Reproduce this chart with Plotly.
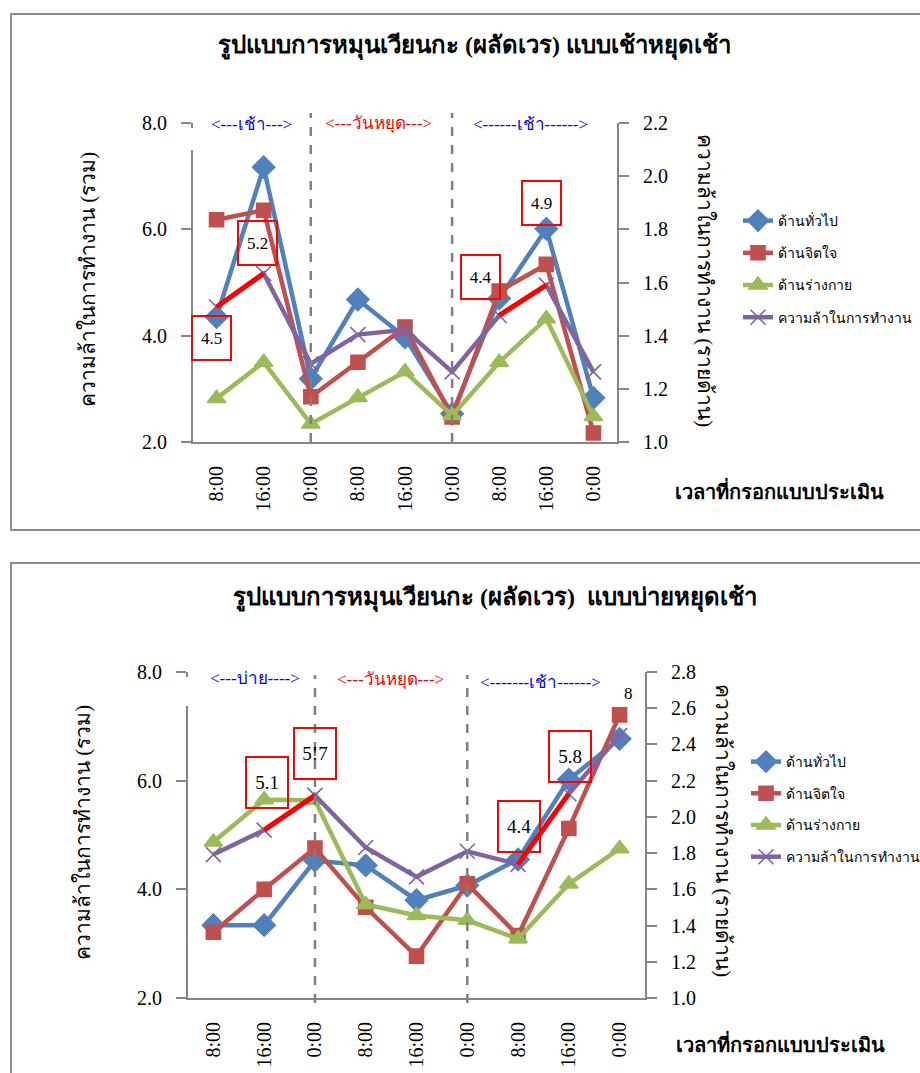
import plotly.graph_objects as go

W, H = 920, 1073

# ---------------- data ----------------
categories = ["8:00", "16:00", "0:00", "8:00 ", "16:00 ", "0:00 ", "8:00  ", "16:00  ", "0:00  "]
tick_text = ["8:00", "16:00", "0:00", "8:00", "16:00", "0:00", "8:00", "16:00", "0:00"]

series_names = ["ด้านทั่วไป", "ด้านจิตใจ", "ด้านร่างกาย", "ความล้าในการทำงาน"]

# chart 1: แบบเช้าหยุดเช้า
c1_general = [4.35, 7.17, 3.19, 4.68, 3.97, 2.53, 4.70, 6.01, 2.83]
c1_mental = [6.18, 6.36, 2.85, 3.50, 4.16, 2.47, 4.84, 5.34, 2.17]
c1_physical = [2.82, 3.50, 2.34, 2.84, 3.32, 2.50, 3.50, 4.32, 2.48]
c1_fatigue = [4.54, 5.17, 3.47, 4.02, 4.11, 3.32, 4.38, 4.95, 3.32]
c1_boxes = {0: "4.5", 1: "5.2", 6: "4.4", 7: "4.9"}
c1_highlight_pairs = [(0, 1), (6, 7)]
c1_sections = ["&lt;---เช้า---&gt;", "&lt;---วันหยุด---&gt;", "&lt;------เช้า------&gt;"]

# chart 2: แบบบ่ายหยุดเช้า
c2_general = [3.34, 3.34, 4.53, 4.44, 3.80, 4.07, 4.55, 6.02, 6.77]
c2_mental = [3.21, 4.00, 4.76, 3.67, 2.77, 4.10, 3.15, 5.12, 7.21]
c2_physical = [4.87, 5.65, 5.64, 3.72, 3.52, 3.43, 3.09, 4.10, 4.75]
c2_fatigue = [4.64, 5.09, 5.73, 4.77, 4.23, 4.70, 4.46, 5.76, 6.83]
c2_boxes = {1: "5.1", 2: "5!7", 6: "4.4", 7: "5.8"}
c2_highlight_pairs = [(1, 2), (6, 7)]
c2_sections = ["&lt;---บ่าย----&gt;", "&lt;---วันหยุด---&gt;", "&lt;-------เช้า------&gt;"]

divider_idx = [2, 5]

colors = ["#4F81BD", "#C0504D", "#9BBB59", "#8064A2"]
symbols = ["diamond", "square", "triangle-up", "x-thin-open"]
msizes = [17, 14, 16, 15]

SERIF = "Liberation Serif, Times New Roman, serif"
GREY = "#868686"


def px(x):
    return x / W


def py(y):
    return 1 - y / H


fig = go.Figure()


def add_chart(vals, xref, yref, y2ref, legend, highlight_pairs):
    for k, v in enumerate(vals):
        fig.add_trace(go.Scatter(
            x=categories, y=v, name=series_names[k], mode="lines+markers",
            line=dict(color=colors[k], width=4.5),
            marker=dict(symbol=symbols[k], size=msizes[k], color=colors[k],
                        line=dict(color=colors[k], width=1.6)),
            xaxis=xref, yaxis=yref, legend=legend, legendgroup=legend + str(k),
        ))
    fat = vals[3]
    for a, b in highlight_pairs:
        fig.add_trace(go.Scatter(
            x=[categories[a], categories[b]], y=[fat[a], fat[b]], mode="lines",
            line=dict(color="#FF0000", width=5), showlegend=False,
            xaxis=xref, yaxis=yref, hoverinfo="skip"))
    # invisible trace to activate the secondary axis
    fig.add_trace(go.Scatter(x=[categories[0]], y=[None], mode="markers",
                             showlegend=False, xaxis=xref, yaxis=y2ref,
                             hoverinfo="skip"))


add_chart([c1_general, c1_mental, c1_physical, c1_fatigue],
          "x", "y", "y2", "legend", c1_highlight_pairs)
add_chart([c2_general, c2_mental, c2_physical, c2_fatigue],
          "x3", "y3", "y4", "legend2", c2_highlight_pairs)


def xaxis_cfg(l, r, anchor):
    return dict(domain=[px(l), px(r)], anchor=anchor, type="category",
                categoryorder="array", categoryarray=categories,
                range=[-0.5, 8.5], tickvals=categories, ticktext=tick_text,
                tickangle=-90, tickfont=dict(family=SERIF, size=20, color="black"),
                showline=True, linecolor=GREY, linewidth=2, ticks="",
                ticklabelstandoff=14, showgrid=False, zeroline=False,
                automargin=False, fixedrange=True)


def yaxis_cfg(t, b, anchor, rng, dtick, side="left", overlay=None):
    d = dict(domain=[py(b), py(t)], anchor=anchor, range=rng, dtick=dtick,
             tick0=rng[0], tickformat=".1f", side=side,
             tickfont=dict(family=SERIF, size=20, color="black"),
             showline=True, linecolor=GREY, linewidth=2, ticks="outside",
             ticklen=10, tickcolor=GREY, tickwidth=2, showgrid=False,
             zeroline=False, ticklabelstandoff=10, automargin=False,
             fixedrange=True)
    if overlay:
        d["overlaying"] = overlay
    return d


fig.update_layout(
    width=W, height=H, margin=dict(l=0, r=0, t=0, b=0, autoexpand=False),
    paper_bgcolor="white", plot_bgcolor="rgba(0,0,0,0)",
    xaxis=xaxis_cfg(193, 617, "y"),
    yaxis=yaxis_cfg(123, 442, "x", [2, 8], 2),
    yaxis2=yaxis_cfg(123, 442, "x", [1.0, 2.2], 0.2, side="right", overlay="y"),
    xaxis3=xaxis_cfg(188, 645, "y3"),
    yaxis3=yaxis_cfg(672, 998, "x3", [2, 8], 2),
    yaxis4=yaxis_cfg(672, 998, "x3", [1.0, 2.8], 0.2, side="right", overlay="y3"),
    legend=dict(x=px(738), y=py(205), xanchor="left", yanchor="top",
                font=dict(family=SERIF, size=14, color="black"),
                tracegroupgap=11, bgcolor="rgba(0,0,0,0)"),
    legend2=dict(x=px(746), y=py(746), xanchor="left", yanchor="top",
                 font=dict(family=SERIF, size=14, color="black"),
                 tracegroupgap=10.5, bgcolor="rgba(0,0,0,0)"),
    showlegend=True,
)

shapes = []
annotations = []

# frames
shapes.append(dict(type="rect", xref="paper", yref="paper", x0=px(11), x1=px(940),
                   y0=py(530), y1=py(14), line=dict(color="#8C8C8C", width=2)))
shapes.append(dict(type="rect", xref="paper", yref="paper", x0=px(11), x1=px(940),
                   y0=py(1090), y1=py(563), line=dict(color="#8C8C8C", width=2)))

# small white gaps at the top of the left axis lines (as in the original)
for y0, y1, xx in [(128, 150, 193), (677, 706, 188)]:
    shapes.append(dict(type="rect", xref="paper", yref="paper", layer="above",
                       x0=px(xx - 3), x1=px(xx + 3), y0=py(y1), y1=py(y0),
                       line=dict(width=0), fillcolor="white"))

# dividers
for xr, top, bot in [("x", 113, 442), ("x3", 675, 1003)]:
    for i in divider_idx:
        shapes.append(dict(type="line", xref=xr, yref="paper", x0=categories[i],
                           x1=categories[i], y0=py(bot), y1=py(top),
                           line=dict(color="#808080", width=2.5, dash="dash")))


def ann(text, x, y, size, color="black", angle=0):
    annotations.append(dict(text=text, x=px(x), y=py(y), xref="paper", yref="paper",
                            xanchor="center", yanchor="middle", showarrow=False,
                            textangle=angle,
                            font=dict(family=SERIF, size=size, color=color)))


# titles
ann("<b>รูปแบบการหมุนเวียนกะ (ผลัดเวร) แบบเช้าหยุดเช้า</b>", 475, 46, 24)
ann("<b>รูปแบบการหมุนเวียนกะ (ผลัดเวร)  แบบบ่ายหยุดเช้า</b>", 495, 598, 24)

# section labels
sec_cols = ["blue", "red", "blue"]
for texts, xs, ys in [(c1_sections, [252, 378, 530], [124, 124, 124]),
                      (c2_sections, [255, 390, 540], [678, 680, 682])]:
    for t, xx, yy, cc in zip(texts, xs, ys, sec_cols):
        ann(t, xx, yy, 17, cc)

# axis titles
for xx, yy in [(88, 280), (83, 833)]:
    ann("ความล้าในการทำงาน (รวม)", xx, yy, 21, angle=-90)
for xx, yy in [(705, 280), (723, 830)]:
    ann("ความล้าในการทำงาน (รายด้าน)", xx, yy, 21, angle=90)
for xx, yy in [(779, 490), (780, 1043)]:
    ann("<b>เวลาที่กรอกแบบประเมิน</b>", xx, yy, 20)

# value boxes
c1_offsets = {0: (-5, -31), 1: (-6, 30), 6: (-19, 38), 7: (-5, 82)}
c2_offsets = {1: (3, 48), 2: (0, 42), 6: (1, 38), 7: (1, 37)}
for boxes, offs, fat, xr, yr, bw, bh, fs in [
        (c1_boxes, c1_offsets, c1_fatigue, "x", "y", 37, 42, 17),
        (c2_boxes, c2_offsets, c2_fatigue, "x3", "y3", 40, 49, 19)]:
    for i, t in boxes.items():
        dx, dy = offs[i]
        annotations.append(dict(text=t, x=categories[i], y=fat[i], xref=xr, yref=yr,
                                xshift=dx, yshift=dy, showarrow=False, width=bw, height=bh,
                                xanchor="center", yanchor="middle",
                                bordercolor="#FF0000", borderwidth=2, borderpad=0,
                                font=dict(family=SERIF, size=fs, color="black")))

# clipped label at the last point of chart 2
annotations.append(dict(text="8", x=categories[8], y=c2_fatigue[8], xref="x3", yref="y3",
                        xshift=9, yshift=42, showarrow=False,
                        xanchor="center", yanchor="middle",
                        font=dict(family=SERIF, size=17, color="black")))

fig.update_layout(shapes=shapes, annotations=annotations)
fig.write_html("out.html")
